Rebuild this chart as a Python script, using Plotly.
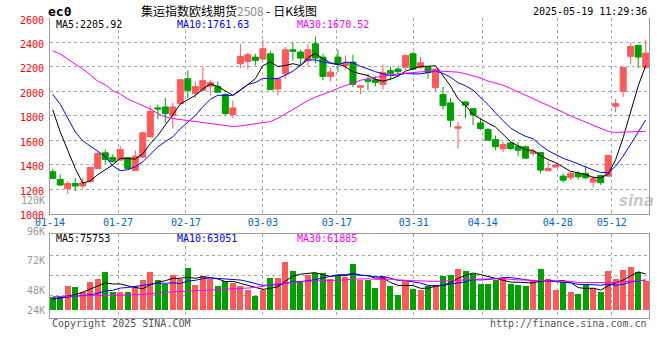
import plotly.graph_objects as go

# ---------------- data ----------------
dates = ["01-14","01-15","01-16","01-17","01-20","01-21","01-22","01-23","01-24","01-27",
         "02-05","02-06","02-07","02-10","02-11","02-12","02-13","02-14","02-17","02-18",
         "02-19","02-20","02-21","02-24","02-25","02-26","02-27","02-28","03-03","03-04",
         "03-05","03-06","03-07","03-10","03-11","03-12","03-13","03-14","03-17","03-18",
         "03-19","03-20","03-21","03-24","03-25","03-26","03-27","03-28","03-31","04-01",
         "04-02","04-03","04-07","04-08","04-09","04-10","04-11","04-14","04-15","04-16",
         "04-17","04-18","04-21","04-22","04-23","04-24","04-25","04-28","04-29","04-30",
         "05-06","05-07","05-08","05-09","05-12","05-13","05-14","05-15","05-16","05-19"]

open_ = [1342,1279,1205,1246,1225,1263,1369,1497,1458,1437,
         1458,1352,1461,1627,1864,1872,1801,1899,2103,1981,
         2008,2041,2038,1973,1810,2226,2245,2280,2264,2307,
         2019,2144,2340,2321,2253,2389,2280,2122,2280,2212,
         2239,2033,2095,2095,2057,2169,2182,2196,2307,2196,
         2196,2030,1973,1905,1698,1913,1858,1741,1687,1605,
         1529,1578,1551,1546,1491,1499,1350,1380,1306,1293,
         1328,1328,1257,1312,1306,1878,2000,2286,2376,2196]
high = [1366,1320,1265,1293,1293,1382,1502,1524,1483,1551,
        1464,1518,1665,1883,1891,1946,1905,2097,2171,2082,
        2199,2095,2082,1986,1924,2389,2318,2307,2422,2329,
        2109,2362,2400,2340,2389,2449,2307,2199,2340,2294,
        2299,2048,2144,2122,2218,2199,2199,2299,2324,2280,
        2196,2182,2035,1946,1750,1919,1860,1782,1701,1638,
        1592,1584,1584,1556,1532,1500,1426,1407,1328,1339,
        1347,1388,1306,1317,1475,1937,2196,2400,2376,2422]
low = [1285,1225,1159,1184,1203,1252,1363,1407,1415,1431,
       1363,1347,1456,1627,1774,1741,1695,1897,1946,1946,
       2005,1967,1986,1804,1782,2190,2180,2212,2259,2012,
       1967,2103,2253,2204,2204,2231,2090,2082,2155,2177,
       2035,1978,2008,2041,2014,2090,2136,2177,2171,2182,
       2103,2000,1850,1706,1532,1777,1722,1682,1598,1518,
       1502,1518,1469,1451,1469,1328,1348,1374,1252,1273,
       1279,1279,1214,1233,1301,1829,1954,2220,2190,2185]
close = [1287,1233,1246,1225,1252,1377,1491,1442,1426,1524,
         1369,1469,1660,1837,1856,1818,1872,2095,2008,2038,
         2087,2073,1992,1818,1864,2286,2299,2253,2348,2014,
         2101,2340,2327,2272,2340,2272,2122,2158,2226,2231,
         2057,2046,2082,2073,2155,2144,2161,2294,2182,2234,
         2155,2182,1883,1763,1709,1886,1810,1695,1600,1546,
         1565,1532,1518,1453,1510,1355,1369,1396,1273,1328,
         1301,1293,1287,1252,1475,1899,2196,2367,2280,2313]
volume = [27400,27400,50600,47900,36900,57500,65000,78000,36900,36900,
          38300,49200,62900,78000,62900,54700,73200,64300,87600,52700,
          71100,64300,50600,59500,56100,50600,41000,30100,41000,67000,
          67000,98500,81400,60900,73200,76600,75900,64300,73200,68400,
          95800,61600,61600,46500,71100,49200,30800,62900,44500,42400,
          49200,52700,71100,73200,85500,81400,75200,54700,54700,62900,
          67000,54700,52700,50600,59500,85500,65000,42400,57500,38300,
          34200,54700,46500,38300,81400,65000,83400,89600,79300,59500]

# moving-average values at the left edge (they depend on days before 01-14)
ma5_head = [1850, 1668, 1518, 1369]
ma10_head = [1976, 1894, 1782, 1668, 1595, 1551, 1513, 1467, 1390]
ma30_head = [2332, 2305, 2264, 2226, 2182, 2136, 2082, 2054, 2005, 1978,
             1937, 1910, 1883, 1856, 1818, 1790, 1777, 1769, 1758, 1752,
             1742, 1731, 1725, 1720, 1712, 1717, 1725, 1733, 1739]
vma5_head = [23940, 25992, 30096, 32832]
vma10_head = [24624, 25992, 28044, 30096, 31464, 32832, 35568, 40356, 41724]
vma30_head = [28728, 29412, 29412, 30096, 30096, 30780, 31464, 31464, 31464, 32148,
              32148, 32832, 33516, 35568, 36252, 37620, 38304, 39672, 41040, 41724,
              41724, 43092, 43776, 44460, 45144, 45828, 46512, 47880, 49932]

price_ticks = [1000, 1200, 1400, 1600, 1800, 2000, 2200, 2400, 2600]
date_ticks = ["01-14", "01-27", "02-17", "03-03", "03-17", "03-31", "04-14", "04-28", "05-12"]
vol_labels = ["96K", "72K", "48K", "24K"]

symbol = "ec0"
title_main = "集运指数欧线期货"
title_code = "2508"
title_tail = " - 日K线图"
stamp = "2025-05-19 11:29:36"
ma_text = ["MA5:2205.92", "MA10:1761.63", "MA30:1670.52"]
vma_text = ["MA5:75753", "MA10:63051", "MA30:61885"]


def moving_avg(vals, n, head):
    out = list(head)
    for i in range(len(head), len(vals)):
        out.append(sum(vals[i - n + 1:i + 1]) / n)
    return out


x = list(range(len(dates)))
ma5 = moving_avg(close, 5, ma5_head)
ma10 = moving_avg(close, 10, ma10_head)
ma30 = moving_avg(close, 30, ma30_head)
vma5 = moving_avg(volume, 5, vma5_head)
vma10 = moving_avg(volume, 10, vma10_head)
vma30 = moving_avg(volume, 30, vma30_head)

# ---------------- styling ----------------
RED = "#FA5A5A"
GREEN = "#00A000"
MA_COLORS = ["#000000", "#0000FF", "#FF00FF"]
GRID = "#A8A8A8"
FRAME = "#9A9A9A"
MONO = "DejaVu Sans Mono"
FW, FH = 660, 360

Lm, Rm, Tm, Bm = 50, 11, 18, 42
PW, PH = FW - Lm - Rm, FH - Tm - Bm


def px(xp):
    return (xp - Lm) / PW


def py(yp):
    return (Tm + PH - yp) / PH


grid_shift = [-0.36, -0.30, -0.25, 0.0, -0.14, 0.11, 0.30, 0.28, 0.47]
tick_pos = [dates.index(d) + s for d, s in zip(date_ticks, grid_shift)]

vol_colors = [RED if c >= o else GREEN for o, c in zip(open_, close)]

fig = go.Figure()
fig.add_trace(go.Candlestick(
    x=x, open=open_, high=high, low=low, close=close,
    increasing=dict(line=dict(color=RED, width=1), fillcolor=RED),
    decreasing=dict(line=dict(color=GREEN, width=1), fillcolor=GREEN),
    whiskerwidth=0, xaxis="x", yaxis="y", hoverinfo="skip"))
for vals, col in zip([ma5, ma10, ma30], MA_COLORS):
    fig.add_trace(go.Scatter(x=x, y=vals, mode="lines", line=dict(color=col, width=1),
                             xaxis="x", yaxis="y", hoverinfo="skip"))
fig.add_trace(go.Bar(x=x, y=volume, marker=dict(color=vol_colors, line=dict(width=0)),
                     width=0.8, xaxis="x2", yaxis="y2", hoverinfo="skip"))
for vals, col in zip([vma5, vma10, vma30], MA_COLORS):
    fig.add_trace(go.Scatter(x=x, y=vals, mode="lines", line=dict(color=col, width=1),
                             xaxis="x2", yaxis="y2", hoverinfo="skip"))

xr = [-0.36, 79.44]
# volume axis: zero at bar baseline
vol_top = 156773
vol_bottom = -14980
vol_grid = [32216, 73256, 114296]

fig.update_layout(
    width=FW, height=FH,
    margin=dict(l=Lm, r=Rm, t=Tm, b=Bm),
    paper_bgcolor="white", plot_bgcolor="white",
    showlegend=False, boxgap=0.2, boxgroupgap=0, bargap=0,
    title=dict(text=symbol, xref="container", yref="container",
               x=48 / FW, y=1 - 11 / FH, xanchor="left", yanchor="middle",
               font=dict(family=MONO, size=13, color="#000000", weight="bold")),
    xaxis=dict(domain=[0, 1], range=xr, anchor="y", tickmode="array",
               tickvals=tick_pos, ticktext=date_ticks,
               tickfont=dict(family=MONO, size=10, color="#0066CC"),
               showgrid=True, gridcolor=GRID, griddash="dot", gridwidth=1,
               showline=True, linecolor=FRAME, linewidth=1, ticks="",
               zeroline=False, rangeslider=dict(visible=False),
               ticklabelstandoff=-1),
    yaxis=dict(domain=[py(213.5), 1], range=[1000, 2600], anchor="x",
               tickmode="array", tickvals=price_ticks,
               ticktext=[str(v) for v in price_ticks],
               tickfont=dict(family=MONO, size=10, color="#FF0000"),
               showgrid=True, gridcolor=GRID, griddash="dot", gridwidth=1,
               showline=True, mirror=True, linecolor=FRAME, linewidth=1,
               ticks="", zeroline=False, ticklabelshift=2, ticklabelstandoff=3),
    xaxis2=dict(domain=[0, 1], range=xr, anchor="y2", matches="x",
                tickmode="array", tickvals=tick_pos, showticklabels=False,
                showgrid=True, gridcolor=GRID, griddash="dot", gridwidth=1,
                showline=True, mirror=True, linecolor=FRAME, linewidth=1,
                ticks="", zeroline=False),
    yaxis2=dict(domain=[0, py(234.3)], range=[vol_bottom, vol_top], anchor="x2",
                tickmode="array", tickvals=vol_grid, showticklabels=False,
                showgrid=True, gridcolor=GRID, griddash="dot", gridwidth=1,
                showline=True, mirror=True, linecolor=FRAME, linewidth=1,
                ticks="", zeroline=False),
)

ann = []


def add_text(text, xp, yp, color="#000000", size=10, anchor="left", family=MONO, weight="normal"):
    ann.append(dict(text=text, x=px(xp), y=py(yp), xref="paper", yref="paper",
                    xanchor=anchor, yanchor="middle", showarrow=False,
                    font=dict(family=family, size=size, color=color, weight=weight)))


# headers
add_text(title_main + "<span style='color:#8a8a8a'>" + title_code +
         "</span>" + title_tail, 139, 10.5, size=12, family="Noto Sans CJK SC")
add_text(stamp, 649, 11.5, anchor="right")
# MA legends
for txt, col, xl in zip(ma_text, MA_COLORS, [54, 175, 295]):
    add_text(txt, xl, 24, color=col)
for txt, col, xl in zip(vma_text, MA_COLORS, [54, 175, 295]):
    add_text(txt, xl, 238.5, color=col)
# volume scale labels
for txt, yl in zip(vol_labels, [231.7, 260.7, 290.7, 310.7]):
    add_text(txt, 47, yl, color="#9a9a9a", anchor="right")
add_text("120K", 47, 200.5, color="#9a9a9a", anchor="right")
# footer
add_text("Copyright 2025 SINA.COM", 50, 323.5, color="#555555")
add_text("http://finance.sina.com.cn", 649, 323.5, color="#555555", anchor="right")
# watermark
add_text("<i>sina</i>", 636, 201, color="rgba(150,150,150,0.55)", size=15,
         anchor="center", family="DejaVu Sans", weight="bold")

fig.update_layout(annotations=ann)

fig.write_html("out.html", config={"displayModeBar": False},
               post_script="document.body.style.margin='0';document.body.style.overflow='hidden';")
